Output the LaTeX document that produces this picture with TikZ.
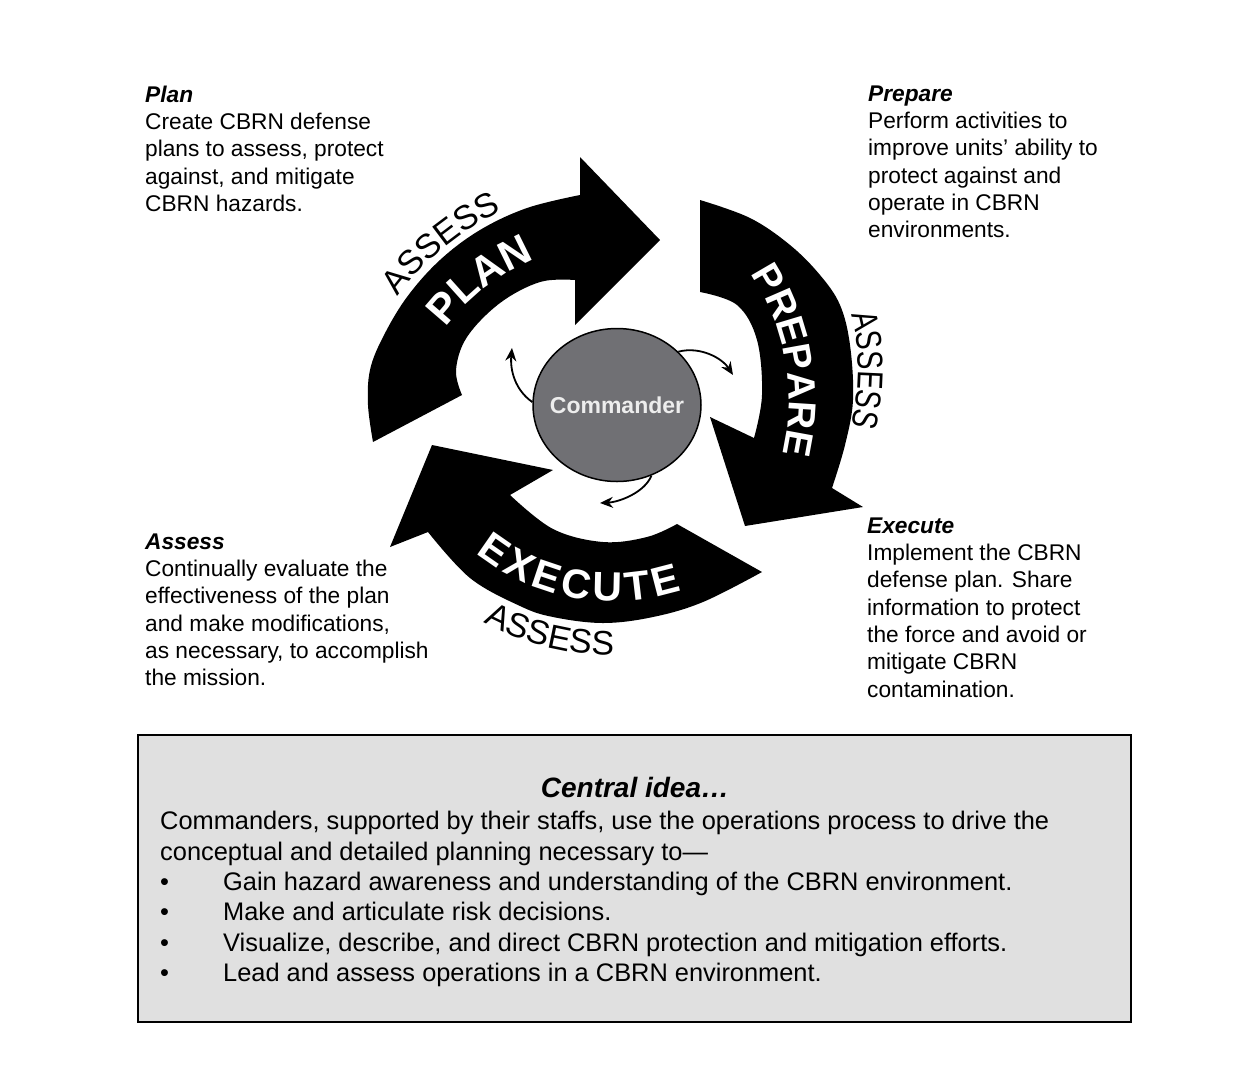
\documentclass[tikz,border=0pt]{standalone}
\usepackage{fontspec}
\setmainfont{Liberation Sans}
\usetikzlibrary{arrows.meta,shapes.geometric,decorations.text,calc}
\newcommand\myfs[2]{\fontsize{#1}{#2}\selectfont}
\definecolor{cmdgray}{RGB}{112,112,116}
\definecolor{boxgray}{RGB}{224,224,224}
\begin{document}
\begin{tikzpicture}[x=1pt,y=-1pt,
  desc/.style={anchor=north west, inner sep=0pt, align=left, font=\myfs{22.7}{27.3}},
  smallarr/.style={line width=1.8pt, -{Stealth[length=13pt, width=11pt]}},
  bigarrow/.style={fill=black},
  bandletter/.style={inner sep=0pt, text=white, font=\myfs{#1}{#1}\bfseries},
  assletter/.style={inner sep=0pt, font=\myfs{36}{36}}
]
\useasboundingbox (0,0) rectangle (1254,1080);
\fill[white] (0,0) rectangle (1254,1080);

% PLAN arrow
\fill[bigarrow] (373,442) -- plot[smooth, tension=0.6] coordinates {(373,442) (368,405) (370,370) (383,337) (407,297) (440,260) (480,230) (527,208) (580,195)}
  -- (580,157) -- (660,240) -- (575,325) -- (575,280)
  -- plot[smooth, tension=0.6] coordinates {(575,280) (540,282) (500,303) (467,337) (456,370) (462,395)} -- cycle;

% PREPARE arrow
\fill[bigarrow] (700,200) -- plot[smooth, tension=0.6] coordinates {(700,200) (750,218) (790,245) (820,275) (840,305) (850,345) (853,400) (845,445) (832,488)}
  -- (863,507) -- (745,526) -- (710,417) -- (754,438)
  -- plot[smooth, tension=0.6] coordinates {(754,438) (762,395) (757,340) (737,305) (700,292)} -- cycle;

% EXECUTE arrow
\fill[bigarrow] (762,572) -- plot[smooth, tension=0.6] coordinates {(762,572) (703,602) (653,617) (603,623) (553,617) (520,606) (470,578) (428,532)}
  -- (390,547) -- (432,445) -- (553,470) -- (510,495)
  -- plot[smooth, tension=0.6] coordinates {(510,495) (553,529) (603,542) (647,537) (677,524)} -- cycle;

% white words in the arrows, letter by letter
\foreach \ch/\a [count=\i] in {P/-139.25, L/-132.0, A/-124.46, N/-116.34}
  \node[bandletter=42, rotate={-90-(\a)}] (plan\i) at ($(615,455)+(\a:226)$) {\ch};
\foreach \ch/\a [count=\i] in {P/-30.25, R/-23.48, E/-16.71, P/-10.20, A/-3.43, R/3.60, E/10.37}
  \node[bandletter=39, rotate={-90-(\a)}] (prep\i) at ($(560,400)+(\a:242)$) {\ch};
\foreach \ch/\a [count=\i] in {E/124.8, X/116.7, E/108.6, C/100.1, U/91.4, T/83.3, E/75.5}
  \node[bandletter=41, rotate={90-(\a)}] (exe\i) at ($(613,380)+(\a:207)$) {\ch};

% ASSESS words
\path[decorate, decoration={text along path, text align=center,
  text={|\myfs{34}{34}|ASSESS}}]
  ($(615,455)+(-154:268.5)$) arc[start angle=-154, end angle=-104.8, radius=268.5];
\foreach \ch/\a [count=\i] in {A/-13, S/-7.8, S/-2.6, E/2.6, S/7.8, S/13}
  \node[assletter, rotate={-90-(\a)}, xscale=0.78] (ass\i) at ($(652,370)+(\a:219)$) {\ch};
\path[decorate, decoration={text along path, text align=center,
  text={|\myfs{34}{34}|ASSESS}}]
  ($(613,380)+(130:275)$) arc[start angle=130, end angle=78, radius=275];

% Commander
\node[ellipse, draw, line width=1.5pt, fill=cmdgray, minimum width=168pt, minimum height=153pt,
  inner sep=0pt, font=\myfs{23}{23}\bfseries, text=white!93!black] (cmd) at (617,405) {\makebox[0pt]{Commander}};

\coordinate (e1) at (512,348);
\coordinate (e2) at (733,375);
\coordinate (e3) at (600,503);
\draw[smallarr] (cmd.178) .. controls (515,390) and (510,370) .. (e1);
\draw[smallarr] (cmd.41) .. controls (700,346) and (722,358) .. (e2);
\draw[smallarr] (cmd.-64) .. controls (645,492) and (620,502) .. (e3);

% descriptions
\node[desc] (plantxt) at (145,85.5) {\textbf{\textit{Plan}}\\Create CBRN defense\\plans to assess, protect\\against, and mitigate\\CBRN hazards.};
\node[desc] (preptxt) at (868,85.5) {\textbf{\textit{Prepare}}\\Perform activities to\\improve units’ ability to\\protect against and\\operate in CBRN\\environments.};
\node[desc] (asstxt) at (145,533.5) {\textbf{\textit{Assess}}\\Continually evaluate the\\effectiveness of the plan\\and make modifications,\\as necessary, to accomplish\\the mission.};
\node[desc] (exetxt) at (867,517.5) {\textbf{\textit{Execute}}\\Implement the CBRN\\defense plan. Share\\information to protect\\the force and avoid or\\mitigate CBRN\\contamination.};

% central idea box
\draw[fill=boxgray, line width=2.5pt] (138,735) rectangle (1131,1022);
\node[inner sep=0pt, font=\myfs{28}{28}\bfseries\itshape] (title) at (635,787) {Central idea…};
\node[anchor=north west, inner sep=0pt, align=left, font=\myfs{25.4}{30.4}] (body) at (160,811)
 {Commanders, supported by their staffs, use the operations process to drive the\\
  conceptual and detailed planning necessary to—\\
  \makebox[63pt][l]{•}Gain hazard awareness and understanding of the CBRN environment.\\
  \makebox[63pt][l]{•}Make and articulate risk decisions.\\
  \makebox[63pt][l]{•}Visualize, describe, and direct CBRN protection and mitigation efforts.\\
  \makebox[63pt][l]{•}Lead and assess operations in a CBRN environment.};
\end{tikzpicture}
\end{document}
